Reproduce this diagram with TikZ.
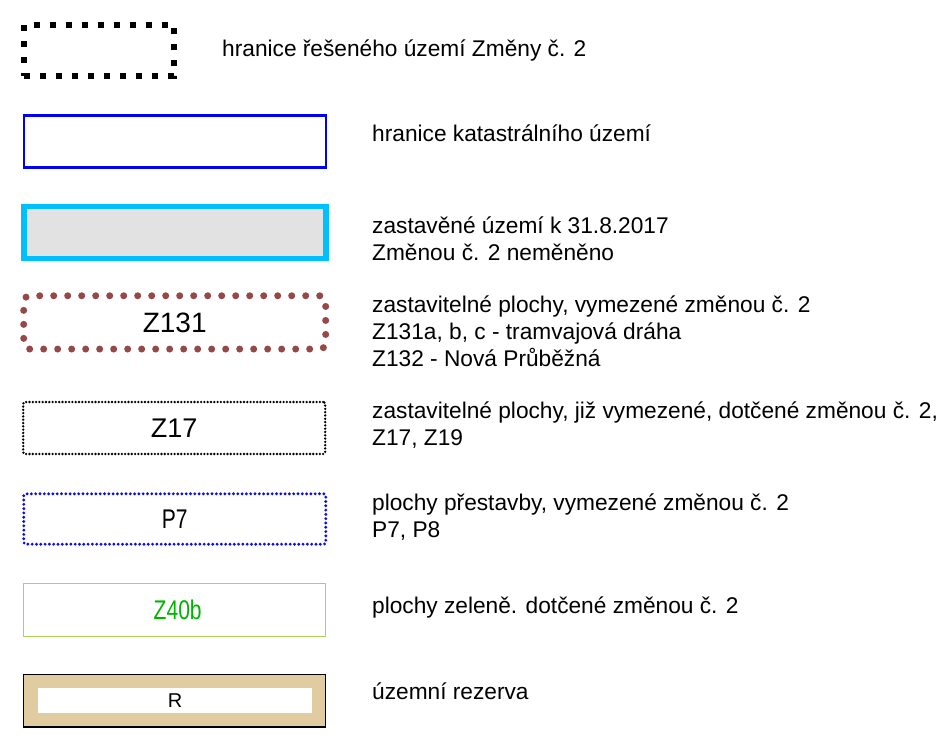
\documentclass[tikz,border=0pt]{standalone}
\usepackage{fontspec}
\setmainfont{Liberation Sans}
\newfontfamily\narrowsans[FakeStretch=0.78]{Liberation Sans}
\usetikzlibrary{positioning}

\definecolor{katblue}{RGB}{0,0,245}
\definecolor{zastcyan}{RGB}{0,191,255}
\definecolor{zastgray}{RGB}{226,226,226}
\definecolor{dotbrown}{RGB}{150,72,72}
\definecolor{dotblue}{RGB}{10,10,235}
\definecolor{greenline}{RGB}{175,210,90}
\definecolor{greentext}{RGB}{0,180,0}
\definecolor{rezerva}{RGB}{224,204,160}

\begin{document}
\begin{tikzpicture}[
    x=1pt, y=-1pt,
    legend/.style={rectangle, inner sep=0pt, minimum width=302pt, minimum height=52pt, align=center},
    desc/.style={anchor=base west, inner sep=0pt, align=left, font=\fontsize{22.7}{26.6}\selectfont},
    boxlabel/.style={font=\fontsize{27}{30}\selectfont},
    dots/.style={line cap=round, dash pattern=on 0pt off #1}
]
\useasboundingbox (0,0) rectangle (946,742);

% hranice reseneho uzemi
\node[rectangle, inner sep=0pt, minimum width=150pt, minimum height=51.5pt, draw=black, line width=6pt, dash pattern=on 6pt off 10pt] (hranice) at (99,50.5) {};
\node[desc] (hranice_txt) at (222,56.5) {hranice řešeného území Změny č. 2};

% katastralni uzemi
\node[legend, draw=katblue, line width=2.7pt] (katastr) at (175,141.6) {};
\node[desc] (katastr_txt) at (372,141.5) {hranice katastrálního území};

% zastavene uzemi (base = last line)
\node[legend, draw=zastcyan, fill=zastgray, line width=5.7pt] (zastavene) at (175,232.5) {};
\node[desc] (zastavene_txt) at (372,260) {zastavěné území k 31.8.2017\\Změnou č. 2 neměněno};

% zastavitelne plochy - nove
\node[legend, font=\fontsize{28}{30}\selectfont, draw=dotbrown, line width=7pt, dots=14pt, rounded corners=6pt, minimum height=53.3pt] (z131) at (174.7,322.4) {Z131};
\node[desc] (z131_txt) at (372,366) {zastavitelné plochy, vymezené změnou č. 2\\Z131a, b, c - tramvajová dráha\\Z132 - Nová Průběžná};

% zastavitelne plochy - dotcene
\node[legend, boxlabel, draw=black, line width=2.6pt, dots=3.3pt, rounded corners=2pt] (z17) at (174.2,428) {Z17};
\node[desc] (z17_txt) at (372,445) {zastavitelné plochy, již vymezené, dotčené změnou č. 2,\\Z17, Z19};

% plochy prestavby
\node[legend, font=\narrowsans\fontsize{27}{30}\selectfont, draw=dotblue, line width=3.2pt, dots=4.3pt, rounded corners=2pt, minimum height=50.4pt] (p7) at (174.8,519) {P7};
\node[desc] (p7_txt) at (372,537) {plochy přestavby, vymezené změnou č. 2\\P7, P8};

% plochy zelene
\node[legend, font=\narrowsans\fontsize{27}{30}\selectfont, text=greentext, draw=greenline, line width=1pt, minimum height=52.4pt] (z40b) at (174.7,610) {\hspace{6pt}Z40b};
\node[desc] (z40b_txt) at (372,613) {plochy zeleně. dotčené změnou č. 2};

% uzemni rezerva
\node[legend, draw=black, fill=rezerva, line width=1.3pt, minimum height=52.4pt] (rezerva) at (174.7,700.9) {};
\node[rectangle, inner sep=0pt, fill=white, minimum width=273.4pt, minimum height=24.4pt, font=\fontsize{20}{22}\selectfont] (rezerva_r) at (175,700.5) {R};
\node[desc] (rezerva_txt) at (372,699) {územní rezerva};

\end{tikzpicture}
\end{document}
